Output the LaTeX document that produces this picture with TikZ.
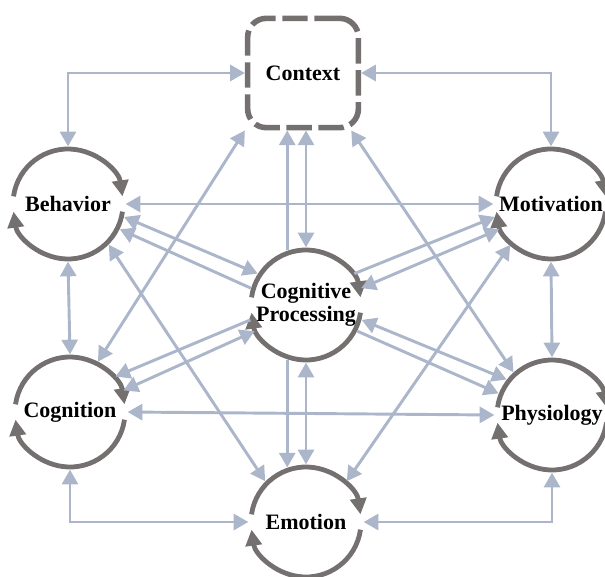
\documentclass[tikz,border=0pt]{standalone}
\usepackage{fontspec}
\setmainfont{Liberation Serif}
\usetikzlibrary{arrows.meta}
\definecolor{ringgray}{RGB}{116,112,112}
\definecolor{linkblue}{RGB}{171,182,203}
\tikzset{
  factor/.style={circle, minimum size=82.5pt, inner sep=0pt, outer sep=2pt,
    font=\bfseries\fontsize{16.5}{17.5}\selectfont, align=center},
  ring/.style={draw=ringgray, line width=3.6pt, -{Triangle[length=12pt,width=12pt]}},
  link/.style={draw=linkblue, line width=2.2pt},
}
\begin{document}
\begin{tikzpicture}[>={Triangle[length=11pt,width=12pt]}, x=0.75pt, y=0.75pt]
  \useasboundingbox (0,0) rectangle (605,576);

  % Context box (dashed)
  \node[draw=ringgray, line width=4.2pt, dash pattern=on 19pt off 5pt, rounded corners=14pt,
        minimum width=83pt, minimum height=82pt,
        font=\bfseries\fontsize{16.5}{17.5}\selectfont] (ctx) at (303,503) {Context};

  % Factors
  \node[factor] (beh) at (68,372) {Behavior};
  \node[factor] (mot) at (551,372) {Motivation};
  \node[factor] (cp) at (306,271) {Cognitive\\Processing};
  \node[factor] (cog) at (70,164) {Cognition};
  \node[factor] (phy) at (552,161) {Physiology};
  \node[factor] (emo) at (306,54) {Emotion};

  % Cycle arrows round each factor
  \draw[ring] ([shift={(172:41.25pt)}]beh.center) arc[start angle=172, end angle=8, radius=41.25pt];
  \draw[ring] ([shift={(-8:41.25pt)}]beh.center) arc[start angle=-8, end angle=-172, radius=41.25pt];
  \draw[ring] ([shift={(172:41.25pt)}]mot.center) arc[start angle=172, end angle=8, radius=41.25pt];
  \draw[ring] ([shift={(-8:41.25pt)}]mot.center) arc[start angle=-8, end angle=-172, radius=41.25pt];
  \draw[ring] ([shift={(172:41.25pt)}]cp.center) arc[start angle=172, end angle=8, radius=41.25pt];
  \draw[ring] ([shift={(-8:41.25pt)}]cp.center) arc[start angle=-8, end angle=-172, radius=41.25pt];
  \draw[ring] ([shift={(172:41.25pt)}]cog.center) arc[start angle=172, end angle=8, radius=41.25pt];
  \draw[ring] ([shift={(-8:41.25pt)}]cog.center) arc[start angle=-8, end angle=-172, radius=41.25pt];
  \draw[ring] ([shift={(172:41.25pt)}]phy.center) arc[start angle=172, end angle=8, radius=41.25pt];
  \draw[ring] ([shift={(-8:41.25pt)}]phy.center) arc[start angle=-8, end angle=-172, radius=41.25pt];
  \draw[ring] ([shift={(172:41.25pt)}]emo.center) arc[start angle=172, end angle=8, radius=41.25pt];
  \draw[ring] ([shift={(-8:41.25pt)}]emo.center) arc[start angle=-8, end angle=-172, radius=41.25pt];

  % Outer frame links
  \draw[link, <->] (beh.north) |- (ctx.west);
  \draw[link, <->] (ctx.east) -| (mot.north);
  \draw[link, <->] (beh.south) -- (cog.north);
  \draw[link, <->] (mot.south) -- (phy.north);
  \draw[link, <->] (cog.south) |- (emo.west);
  \draw[link, <->] (emo.east) -| (phy.south);
  \draw[link, <->] (beh.east) -- (mot.west);
  \draw[link, <->] (cog.east) -- (phy.west);

  % Long diagonals
  \draw[link, <->] (beh.-45) -- (emo.135);
  \draw[link, <->] (mot.-135) -- (emo.45);
  \draw[link, <->] (cog.61) -- (ctx.south west);
  \draw[link, <->] (phy.132) -- (ctx.-50);

  % Links to and from cognitive processing
  \draw[link, ->] (cp.109) -- (cp.109 |- ctx.south);
  \draw[link, <->] (cp.north) -- (cp.north |- ctx.south);
  \draw[link, ->] (cp.-109) -- (emo.109);
  \draw[link, <->] (cp.south) -- (emo.north);
  \draw[link, <->] (beh.-13) -- (cp.147);
  \draw[link, ->] (cp.163) -- (beh.-26);
  \draw[link, ->] (cp.33) -- (mot.193);
  \draw[link, <->] (cp.17) -- (mot.206);
  \draw[link, ->] (cp.195) -- (cog.38);
  \draw[link, <->] (cp.207) -- (cog.22);
  \draw[link, <->] (cp.-15) -- (phy.142);
  \draw[link, ->] (cp.-27) -- (phy.158);
\end{tikzpicture}
\end{document}
